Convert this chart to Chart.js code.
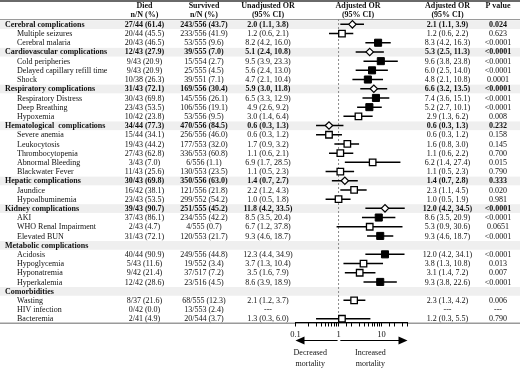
<!DOCTYPE html>
<html>
<head>
<meta charset="utf-8">
<script src="https://cdn.jsdelivr.net/npm/chart.js@4"></script>
<style>
  html, body { margin: 0; padding: 0; background: #fff; }
</style>
</head>
<body>
<canvas id="forest" width="520" height="370"></canvas>
<script>
const rowLabels = [
    'Cerebral complications', 'Multiple seizures', 'Cerebral malaria',
    'Cardiovascular complications', 'Cold peripheries', 'Delayed capillary refill time', 'Shock',
    'Respiratory complications', 'Respiratory Distress', 'Deep Breathing', 'Hypoxemia',
    'Hematological  complications', 'Severe anemia', 'Leukocytosis', 'Thrombocytopenia', 'Abnormal Bleeding', 'Blackwater Fever',
    'Hepatic complications', 'Jaundice', 'Hypoalbuminemia',
    'Kidney complications', 'AKI', 'WHO Renal Impairment', 'Elevated BUN',
    'Metabolic complications', 'Acidosis', 'Hypoglycemia', 'Hyponatremia', 'Hyperkalemia',
    'Comorbidities', 'Wasting', 'HIV infection', 'Bacteremia'
];
const groupRows = [0, 3, 7, 11, 17, 20, 24, 29];

const died = [
    '27/44 (61.4)', '20/44 (45.5)', '20/43 (46.5)',
    '12/43 (27.9)', '9/43 (20.9)', '9/43 (20.9)', '10/38 (26.3)',
    '31/43 (72.1)', '30/43 (69.8)', '23/43 (53.5)', '10/42 (23.8)',
    '34/44 (77.3)', '15/44 (34.1)', '19/43 (44.2)', '27/43 (62.8)', '3/43 (7.0)', '11/43 (25.6)',
    '30/43 (69.8)', '16/42 (38.1)', '23/43 (53.5)',
    '39/43 (90.7)', '37/43 (86.1)', '2/43 (4.7)', '31/43 (72.1)',
    '', '40/44 (90.9)', '5/43 (11.6)', '9/42 (21.4)', '12/42 (28.6)',
    '', '8/37 (21.6)', '0/42 (0.0)', '2/41 (4.9)'
];
const survived = [
    '243/556 (43.7)', '233/556 (41.9)', '53/555 (9.6)',
    '39/555 (7.0)', '15/554 (2.7)', '25/555 (4.5)', '39/551 (7.1)',
    '169/556 (30.4)', '145/556 (26.1)', '106/556 (19.1)', '53/556 (9.5)',
    '470/556 (84.5)', '256/556 (46.0)', '177/553 (32.0)', '336/553 (60.8)', '6/556 (1.1)', '130/553 (23.5)',
    '350/556 (63.0)', '121/556 (21.8)', '299/552 (54.2)',
    '251/555 (45.2)', '234/555 (42.2)', '4/555 (0.7)', '120/553 (21.7)',
    '', '249/556 (44.8)', '19/552 (3.4)', '37/517 (7.2)', '23/516 (4.5)',
    '', '68/555 (12.3)', '13/553 (2.4)', '20/544 (3.7)'
];

// unadjusted odds ratios (text column only)
const unadjOR =   [2.0, 1.2, 8.2, 5.1, 9.5, 5.6, 4.7, 5.9, 6.5, 4.9, 3.0, 0.6, 0.6, 1.7, 1.1, 6.9, 1.1, 1.4, 2.2, 1.0, 11.8, 8.5, 6.7, 9.3, null, 12.3, 3.7, 3.5, 8.6, null, 2.1, null, 1.3];
const unadjLow =  [1.1, 0.6, 4.2, 2.4, 3.9, 2.4, 2.1, 3.0, 3.3, 2.6, 1.4, 0.3, 0.3, 0.9, 0.6, 1.7, 0.5, 0.7, 1.2, 0.5, 4.2, 3.5, 1.2, 4.6, null, 4.4, 1.3, 1.6, 3.9, null, 1.2, null, 0.3];
const unadjHigh = [3.8, 2.1, 16.0, 10.8, 23.3, 13.0, 10.4, 11.8, 12.9, 9.2, 6.4, 1.3, 1.2, 3.2, 2.1, 28.5, 2.3, 2.7, 4.3, 1.8, 33.5, 20.4, 37.8, 18.7, null, 34.9, 10.4, 7.9, 18.9, null, 3.7, null, 6.0];

// adjusted odds ratios (plotted)
const adjOR =   [2.1, 1.2, 8.3, 5.3, 9.6, 6.0, 4.8, 6.6, 7.4, 5.2, 2.9, 0.6, 0.6, 1.6, 1.1, 6.2, 1.1, 1.4, 2.3, 1.0, 12.0, 8.6, 5.3, 9.3, null, 12.0, 3.8, 3.1, 9.3, null, 2.3, null, 1.2];
const adjLow =  [1.1, 0.6, 4.2, 2.5, 3.8, 2.5, 2.1, 3.2, 3.6, 2.7, 1.3, 0.3, 0.3, 0.8, 0.6, 1.4, 0.5, 0.7, 1.1, 0.5, 4.2, 3.5, 0.9, 4.6, null, 4.2, 1.3, 1.4, 3.8, null, 1.3, null, 0.3];
const adjHigh = [3.9, 2.2, 16.3, 11.3, 23.8, 14.0, 10.8, 13.5, 15.1, 10.1, 6.2, 1.3, 1.2, 3.0, 2.2, 27.4, 2.3, 2.8, 4.5, 1.9, 34.5, 20.9, 30.6, 18.7, null, 34.1, 10.8, 7.2, 22.6, null, 4.2, null, 5.5];

const pValues = [
    '0.024', '0.623', '<0.0001',
    '<0.0001', '<0.0001', '<0.0001', '0.0001',
    '<0.0001', '<0.0001', '<0.0001', '0.008',
    '0.232', '0.158', '0.145', '0.700', '0.015', '0.790',
    '0.333', '0.020', '0.981',
    '<0.0001', '<0.0001', '0.0651', '<0.0001',
    '', '<0.0001', '0.013', '0.007', '<0.0001',
    '', '0.006', '---', '0.790'
];

const xTickLabels = [0.1, 1, 10];

const FONT = '"Liberation Serif", "Times New Roman", serif';
const Y_MIN = -0.58;
const Y_MAX = 32.41;
const COL = { died: 144.5, survived: 204, unadj: 268, plot: 358, adj: 447.5, p: 498 };

function fmtOR(or, lo, hi) {
    if (or == null) return '---';
    return `${or.toFixed(1)} (${lo.toFixed(1)}, ${hi.toFixed(1)})`;
}

function isGroup(i) {
    return groupRows.includes(i);
}

function isStrong(p) {
    return p.startsWith('<') || parseFloat(p) <= 0.0001;
}

const diamondPts = [];
const filledPts = [];
const openPts = [];
const ciPts = [];
rowLabels.forEach((_, i) => {
    if (adjOR[i] == null) return;
    const pt = { x: adjOR[i], y: i };
    if (isGroup(i)) diamondPts.push(pt);
    else if (isStrong(pValues[i])) filledPts.push(pt);
    else openPts.push(pt);
    ciPts.push({ x: adjLow[i], y: i }, { x: adjHigh[i], y: i }, { x: null, y: null });
});

function drawText(ctx, s, x, y, bold, align) {
    ctx.font = (bold ? 'bold ' : '') + '8px ' + FONT;
    ctx.textAlign = align || 'center';
    ctx.fillText(s, x, y);
}

function drawArrow(ctx, x1, x2, y) {
    const dir = Math.sign(x2 - x1);
    ctx.beginPath();
    ctx.moveTo(x1, y);
    ctx.lineTo(x2 - dir * 7, y);
    ctx.stroke();
    ctx.beginPath();
    ctx.moveTo(x2, y);
    ctx.lineTo(x2 - dir * 9, y - 4);
    ctx.lineTo(x2 - dir * 9, y + 4);
    ctx.closePath();
    ctx.fill();
}

const tablePlugin = {
    id: 'tableText',
    beforeDraw(chart) {
        const { ctx } = chart;
        ctx.save();
        ctx.fillStyle = '#6a6a6a';
        ctx.fillRect(0, 0, chart.width, 2);
        ctx.fillStyle = '#9a9a9a';
        ctx.fillRect(0, 19, chart.width, 1);
        ctx.fillRect(0, 322.5, chart.width, 1.5);
        ctx.restore();
    },
    beforeDatasetsDraw(chart) {
        const { ctx } = chart;
        const y = chart.scales.y;
        ctx.save();
        ctx.fillStyle = '#efefef';
        groupRows.forEach(i => {
            const top = y.getPixelForValue(i - 0.5);
            const bot = y.getPixelForValue(i + 0.5);
            ctx.fillRect(0, top + 0.5, chart.width, bot - top - 0.5);
        });
        ctx.restore();
    },
    afterDraw(chart) {
        const { ctx } = chart;
        const x = chart.scales.x;
        const y = chart.scales.y;
        ctx.save();
        ctx.fillStyle = '#111';
        ctx.textBaseline = 'middle';

        // header
        drawText(ctx, 'Died', COL.died, 6, true);
        drawText(ctx, 'n/N (%)', COL.died, 15, true);
        drawText(ctx, 'Survived', COL.survived, 6, true);
        drawText(ctx, 'n/N (%)', COL.survived, 15, true);
        drawText(ctx, 'Unadjusted OR', COL.unadj, 6, true);
        drawText(ctx, '(95% CI)', COL.unadj, 15, true);
        drawText(ctx, 'Adjusted OR', COL.plot, 6, true);
        drawText(ctx, '(95% CI)', COL.plot, 15, true);
        drawText(ctx, 'Adjusted OR', COL.adj, 6, true);
        drawText(ctx, '(95% CI)', COL.adj, 15, true);
        drawText(ctx, 'P value', COL.p, 6, true);

        // rows
        rowLabels.forEach((label, i) => {
            const g = isGroup(i);
            const py = y.getPixelForValue(i) + 0.5;
            drawText(ctx, label, g ? 5 : 17, py, g, 'left');
            drawText(ctx, died[i], COL.died, py, g);
            drawText(ctx, survived[i], COL.survived, py, g);
            if (died[i] === '') return;
            drawText(ctx, fmtOR(unadjOR[i], unadjLow[i], unadjHigh[i]), COL.unadj, py, g);
            drawText(ctx, fmtOR(adjOR[i], adjLow[i], adjHigh[i]), COL.adj, py, g);
            drawText(ctx, pValues[i], COL.p, py, g);
        });

        // direction arrows under the axis
        ctx.strokeStyle = '#000';
        ctx.fillStyle = '#000';
        ctx.lineWidth = 1.2;
        drawArrow(ctx, x.getPixelForValue(0.95), x.getPixelForValue(0.1), 340.5);
        drawArrow(ctx, x.getPixelForValue(1.1), x.getPixelForValue(40), 340.5);
        ctx.fillStyle = '#111';
        drawText(ctx, 'Decreased', x.getPixelForValue(0.22), 353, false);
        drawText(ctx, 'mortality', x.getPixelForValue(0.22), 364, false);
        drawText(ctx, 'Increased', x.getPixelForValue(5.5), 353, false);
        drawText(ctx, 'mortality', x.getPixelForValue(5.5), 364, false);
        ctx.restore();
    }
};

new Chart(document.getElementById('forest').getContext('2d'), {
    type: 'scatter',
    data: {
        datasets: [
            {
                label: 'Groups',
                data: diamondPts,
                pointStyle: 'rectRot',
                pointRadius: 3.7,
                backgroundColor: '#fff',
                borderColor: '#000',
                borderWidth: 1.2,
                clip: false,
                order: 0
            },
            {
                label: 'p <= 0.0001',
                data: filledPts,
                pointStyle: 'rect',
                pointRadius: 5,
                backgroundColor: '#000',
                borderColor: '#000',
                borderWidth: 1,
                clip: false,
                order: 0
            },
            {
                label: 'Other',
                data: openPts,
                pointStyle: 'rect',
                pointRadius: 4.6,
                backgroundColor: '#fff',
                borderColor: '#000',
                borderWidth: 1.3,
                clip: false,
                order: 0
            },
            {
                label: '95% CI',
                data: ciPts,
                showLine: true,
                spanGaps: false,
                pointRadius: 0,
                borderColor: '#000',
                borderWidth: 1.5,
                clip: false,
                order: 1
            },
            {
                label: 'OR = 1',
                data: [{ x: 1, y: Y_MIN }, { x: 1, y: Y_MAX }],
                showLine: true,
                pointRadius: 0,
                borderColor: '#8a8a8a',
                borderWidth: 1,
                borderDash: [2, 2],
                order: 2
            }
        ]
    },
    options: {
        responsive: false,
        animation: false,
        devicePixelRatio: 1,
        events: [],
        layout: { padding: { left: 295.5, right: 112.5, top: 19, bottom: 27.5 } },
        plugins: {
            legend: { display: false },
            tooltip: { enabled: false }
        },
        scales: {
            x: {
                type: 'logarithmic',
                min: 0.1,
                max: 40,
                afterFit: scale => { scale.height = 20; },
                border: { display: true, color: '#000', width: 1 },
                grid: { drawOnChartArea: false, drawTicks: true, tickLength: 4, color: '#000' },
                ticks: {
                    autoSkip: false,
                    maxRotation: 0,
                    padding: 3,
                    color: '#111',
                    font: { family: FONT, size: 8.5 },
                    callback: v => xTickLabels.some(t => Math.abs(t - v) < 1e-9) ? String(v) : ''
                }
            },
            y: {
                type: 'linear',
                reverse: true,
                min: Y_MIN,
                max: Y_MAX,
                display: false
            }
        }
    },
    plugins: [tablePlugin]
});
</script>
</body>
</html>
